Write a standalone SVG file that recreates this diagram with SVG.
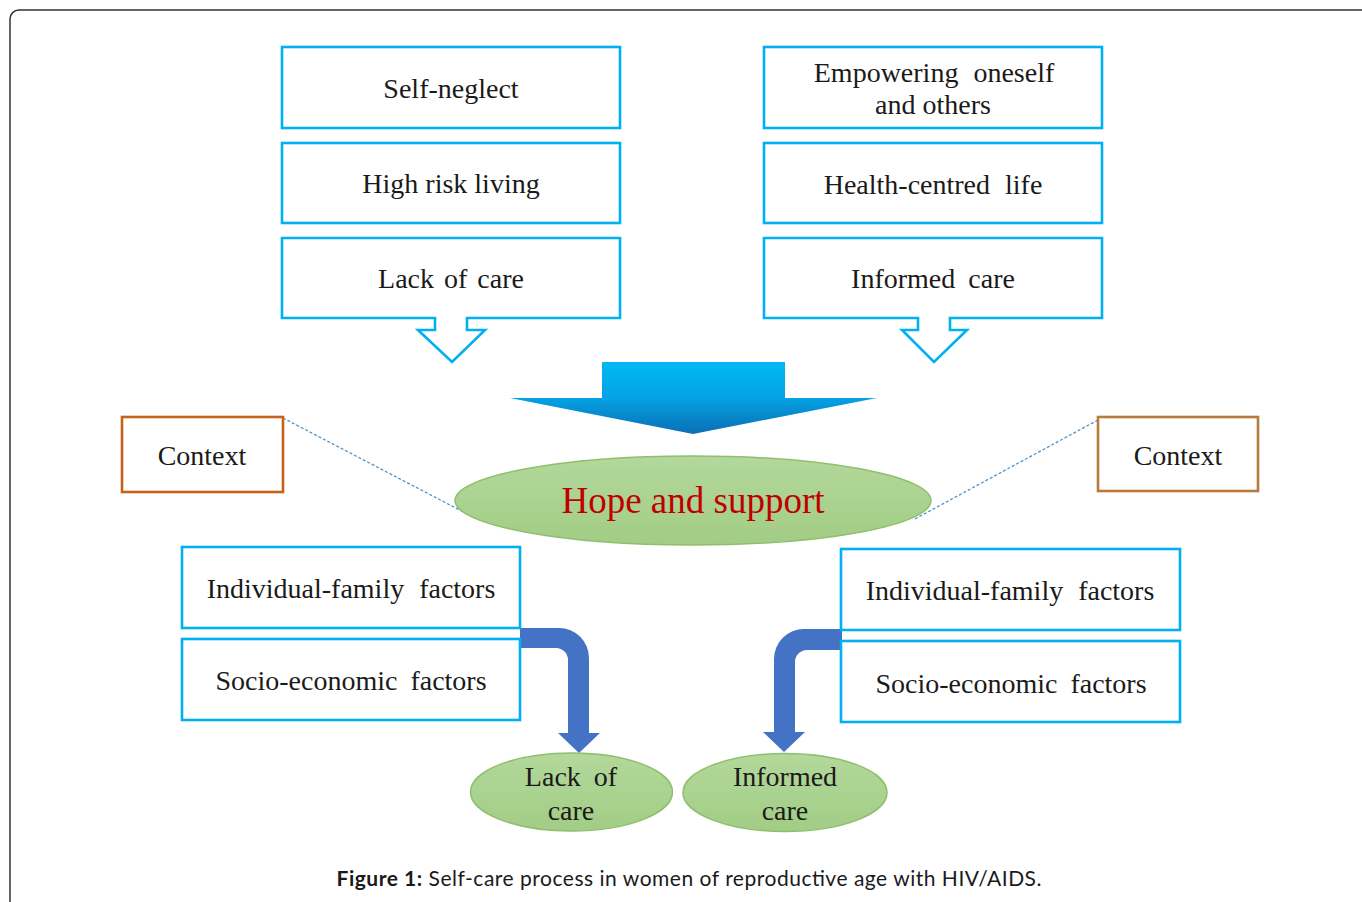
<svg xmlns="http://www.w3.org/2000/svg" width="1362" height="902" viewBox="0 0 1362 902">
<style>
.box{fill:#fff;stroke:#00b0f0;stroke-width:2.6}
.ctx{fill:#fff;stroke-width:2.6}
.t{font-family:'Liberation Serif',serif;font-size:28px;fill:#1a1a1a;text-anchor:middle}
.ell{stroke:#8fbf6e;stroke-width:1.5}
.bent{fill:#4472c4}
.dash{stroke:#4f95cc;stroke-width:1.3;stroke-dasharray:3 2;fill:none}
.cap{font-family:Lato,'Liberation Sans',sans-serif;font-size:21px;fill:#1a1a1a;text-anchor:middle}
</style>
<defs>
<linearGradient id="bg" x1="0" y1="362" x2="0" y2="433" gradientUnits="userSpaceOnUse">
<stop offset="0" stop-color="#00b8f4"/>
<stop offset="0.5" stop-color="#04a3e4"/>
<stop offset="1" stop-color="#0a70b6"/>
</linearGradient>
<linearGradient id="gg" x1="0" y1="0" x2="0" y2="1">
<stop offset="0" stop-color="#b3d89b"/>
<stop offset="1" stop-color="#a2cd85"/>
</linearGradient>
</defs>
<rect x="10" y="10" width="1400" height="1000" rx="9" fill="#fff" stroke="#333" stroke-width="1.5"/>

<g id="connectors">
<line class="dash" x1="283" y1="418" x2="475" y2="518"/>
<line class="dash" x1="1098" y1="420" x2="913" y2="520"/>
<path id="big-arrow" d="M602,362 H785 V398 H877 L693,434 L510,398 H602 Z" fill="url(#bg)"/>
<path class="bent" d="M520,628 H559 A30,30 0 0 1 589,658 V733 H600 L579,753 L558,733 H568 V660 A12,12 0 0 0 556,648 H520 Z"/>
<path class="bent" d="M842,629 H804 A30,30 0 0 0 774,659 V732 H763 L784,752 L805,732 H795 V662 A12,12 0 0 1 807,650 H842 Z"/>
</g>

<g id="self-neglect">
<rect class="box" x="282" y="47" width="338" height="81"/>
<text class="t" x="451" y="98">Self-neglect</text>
</g>
<g id="high-risk">
<rect class="box" x="282" y="143" width="338" height="80"/>
<text class="t" x="451" y="193">High risk living</text>
</g>
<g id="lack-of-care-box">
<path class="box" d="M282,238 H620 V318 H467 V330 H485 L452,362 L418,330 H435 V318 H282 Z"/>
<text class="t" x="451" y="288" word-spacing="3">Lack of care</text>
</g>

<g id="empowering">
<rect class="box" x="764" y="47" width="338" height="81"/>
<text class="t" x="934" y="82" word-spacing="8">Empowering oneself</text>
<text class="t" x="933" y="114">and others</text>
</g>
<g id="health-centred">
<rect class="box" x="764" y="143" width="338" height="80"/>
<text class="t" x="933" y="194" word-spacing="8">Health-centred life</text>
</g>
<g id="informed-care-box">
<path class="box" d="M764,238 H1102 V318 H950 V330 H967 L934,362 L902,330 H918 V318 H764 Z"/>
<text class="t" x="933" y="288" word-spacing="6">Informed care</text>
</g>

<g id="context-left">
<rect class="ctx" x="122" y="417" width="161" height="75" stroke="#c5611a"/>
<text class="t" x="202" y="465">Context</text>
</g>
<g id="context-right">
<rect class="ctx" x="1098" y="417" width="160" height="74" stroke="#b97a3c"/>
<text class="t" x="1178" y="465">Context</text>
</g>

<g id="hope">
<ellipse class="ell" cx="693" cy="500.5" rx="238" ry="44.5" fill="url(#gg)"/>
<text x="693" y="513" font-family="'Liberation Serif',serif" font-size="37" fill="#c00000" text-anchor="middle">Hope and support</text>
</g>

<g id="ind-left">
<rect class="box" x="182" y="547" width="338" height="81"/>
<text class="t" x="351" y="598" word-spacing="8">Individual-family factors</text>
</g>
<g id="soc-left">
<rect class="box" x="182" y="639" width="338" height="81"/>
<text class="t" x="351" y="690" word-spacing="6">Socio-economic factors</text>
</g>
<g id="ind-right">
<rect class="box" x="841" y="549" width="339" height="81"/>
<text class="t" x="1010" y="600" word-spacing="8">Individual-family factors</text>
</g>
<g id="soc-right">
<rect class="box" x="841" y="641" width="339" height="81"/>
<text class="t" x="1011" y="693" word-spacing="6">Socio-economic factors</text>
</g>

<g id="lack-ell">
<ellipse class="ell" cx="571.5" cy="792" rx="101" ry="39" fill="url(#gg)"/>
<text class="t" x="571" y="786" word-spacing="6">Lack of</text>
<text class="t" x="571" y="820">care</text>
</g>
<g id="informed-ell">
<ellipse class="ell" cx="785" cy="792.5" rx="102" ry="39" fill="url(#gg)"/>
<text class="t" x="785" y="786">Informed</text>
<text class="t" x="785" y="820">care</text>
</g>

<text class="cap" x="689" y="886" textLength="705" lengthAdjust="spacing"><tspan font-weight="bold">Figure 1:</tspan> Self-care process in women of reproductive age with HIV/AIDS.</text>
</svg>
